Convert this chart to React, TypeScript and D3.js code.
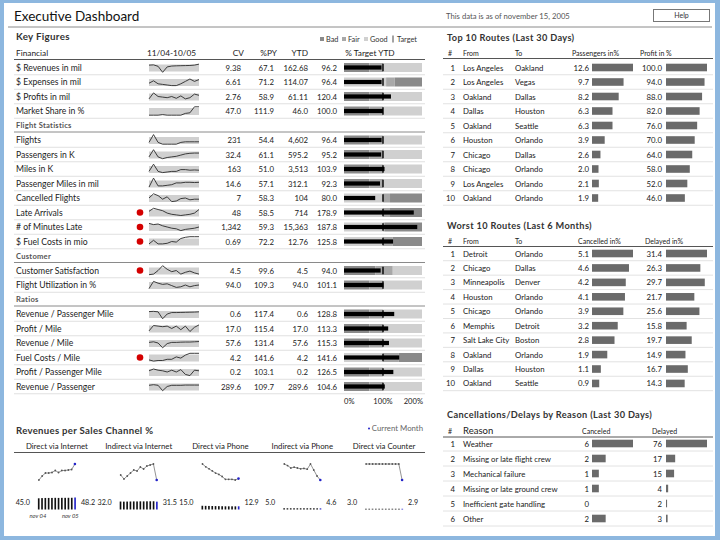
import React from "react";
import * as d3 from "d3";

const FONT = "Lato, 'Open Sans', 'DejaVu Sans', sans-serif";
const FRAME = "#8db7df";
const BAND_LIGHT = "#d0d0d0";
const BAND_MID = "#a8a8a8";
const BAND_DARK = "#8a8a8a";
const BAR_GRAY = "#6a6a6a";
const CUR_BLUE = "#2424c8";

// ---------------- Key figures ----------------
const kfGroups = ["Financial", "Flight Statistics", "Customer", "Ratios"];
const kfGroupOf = [0, 0, 0, 0, 1, 1, 1, 1, 1, 1, 1, 1, 2, 2, 3, 3, 3, 3, 3, 3];
const kfLabels = [
  "$ Revenues in mil", "$ Expenses in mil", "$ Profits in mil", "Market Share in %",
  "Flights", "Passengers in K", "Miles in K", "Passenger Miles in mil", "Cancelled Flights",
  "Late Arrivals", "# of Minutes Late", "$ Fuel Costs in mio",
  "Customer Satisfaction", "Flight Utilization in %",
  "Revenue / Passenger Mile", "Profit / Mile", "Revenue / Mile", "Fuel Costs / Mile",
  "Profit / Passenger Mile", "Revenue / Passenger",
];
const kfCV = ["9.38", "6.61", "2.76", "47.0", "231", "32.4", "163", "14.6", "7", "48", "1,342", "0.69", "4.5", "94.0", "0.6", "17.0", "57.6", "4.2", "0.2", "289.6"];
const kfPY = ["67.1", "71.2", "58.9", "111.9", "54.4", "61.1", "51.0", "57.1", "58.3", "58.5", "59.3", "72.2", "99.6", "109.3", "117.4", "115.4", "131.4", "141.6", "103.1", "109.7"];
const kfYTD = ["162.68", "114.07", "61.11", "46.0", "4,602", "595.2", "3,513", "312.1", "104", "714", "15,363", "12.76", "4.5", "94.0", "0.6", "17.0", "57.6", "4.2", "0.2", "289.6"];
const kfTarget = [96.2, 96.4, 120.4, 100.0, 96.4, 95.2, 103.9, 92.3, 80.0, 178.9, 187.8, 125.8, 94.0, 101.1, 128.8, 113.3, 115.3, 141.6, 126.5, 104.6];
const kfAlert = [false, false, false, false, false, false, false, false, false, true, true, true, true, false, false, false, false, true, false, false];
const kfLowerBetter = [false, true, false, false, false, false, false, false, true, true, true, true, false, false, false, false, false, true, false, false];
const kfBandLo = [65, 108, 65, 65, 65, 65, 65, 65, 100, 100, 100, 100, 80, 65, 65, 65, 65, 100, 65, 65];
const kfBandHi = [100, 130, 100, 100, 100, 100, 100, 100, 118, 118, 105, 125, 125, 100, 100, 100, 100, 140, 100, 100];
const kfSpark = [
  [0.7, 0.72, 0.6, 0.1, 0.55, 0.62, 0.64, 0.65, 0.66, 0.67, 0.7, 0.78],
  [0.4, 0.6, 0.35, 0.3, 0.25, 0.2, 0.2, 0.35, 0.55, 0.75, 0.55, 0.7],
  [0.3, 0.8, 0.5, 0.45, 0.4, 0.5, 0.35, 0.55, 0.3, 0.4, 0.7, 0.6],
  [0.15, 0.15, 0.15, 0.2, 0.15, 0.15, 0.15, 0.15, 0.3, 0.35, 0.85, 0.85],
  [0.3, 0.95, 0.3, 0.15, 0.15, 0.15, 0.15, 0.3, 0.35, 0.35, 0.35, 0.35],
  [0.3, 0.9, 0.3, 0.15, 0.25, 0.3, 0.35, 0.45, 0.55, 0.6, 0.62, 0.62],
  [0.3, 0.9, 0.3, 0.2, 0.25, 0.3, 0.3, 0.45, 0.45, 0.4, 0.42, 0.4],
  [0.2, 0.95, 0.3, 0.3, 0.35, 0.4, 0.55, 0.55, 0.6, 0.6, 0.58, 0.6],
  [0.5, 0.85, 0.7, 0.4, 0.6, 0.2, 0.25, 0.45, 0.5, 0.35, 0.4, 0.4],
  [0.6, 0.85, 0.75, 0.65, 0.45, 0.35, 0.3, 0.25, 0.3, 0.35, 0.45, 0.75],
  [0.8, 0.7, 0.75, 0.6, 0.5, 0.4, 0.35, 0.2, 0.3, 0.35, 0.4, 0.5],
  [0.3, 0.6, 0.3, 0.3, 0.35, 0.5, 0.45, 0.75, 0.85, 0.9, 0.9, 0.9],
  [0.15, 0.2, 0.5, 0.9, 0.6, 0.4, 0.5, 0.2, 0.35, 0.45, 0.3, 0.2],
  [0.2, 0.8, 0.65, 0.55, 0.6, 0.45, 0.3, 0.35, 0.5, 0.35, 0.45, 0.5],
  [0.7, 0.72, 0.68, 0.1, 0.5, 0.62, 0.62, 0.63, 0.64, 0.65, 0.66, 0.68],
  [0.3, 0.75, 0.7, 0.65, 0.7, 0.5, 0.7, 0.4, 0.7, 0.25, 0.6, 0.8],
  [0.55, 0.6, 0.5, 0.1, 0.45, 0.55, 0.55, 0.57, 0.58, 0.58, 0.6, 0.62],
  [0.3, 0.2, 0.25, 0.25, 0.35, 0.35, 0.55, 0.45, 0.7, 0.85, 0.85, 0.85],
  [0.6, 0.75, 0.65, 0.6, 0.5, 0.65, 0.5, 0.7, 0.3, 0.2, 0.65, 0.6],
  [0.6, 0.65, 0.6, 0.15, 0.5, 0.6, 0.6, 0.6, 0.62, 0.62, 0.62, 0.62],
];
const kfAxisTicks = [0, 100, 200];
const legendItems = ["Bad", "Fair", "Good"];

// ---------------- Sales channels ----------------
const channelNames = ["Direct via Internet", "Indirect via Internet", "Direct via Phone", "Indirect via Phone", "Direct via Counter"];
const channelSeries = [
  [45.0, 45.8, 46.4, 46.4, 46.5, 46.9, 46.5, 46.9, 46.9, 47.0, 47.1, 48.2],
  [32.0, 31.6, 31.9, 32.2, 32.5, 32.4, 32.8, 32.6, 32.9, 33.0, 33.1, 31.5],
  [15.0, 14.6, 14.3, 14.0, 13.7, 13.5, 13.2, 12.8, 12.8, 12.8, 12.7, 12.9],
  [5.0, 4.96, 4.9, 4.92, 4.9, 4.88, 4.89, 4.87, 5.0, 4.85, 4.7, 4.6],
  [3.0, 3.0, 3.0, 3.0, 3.0, 3.0, 3.0, 3.0, 3.0, 3.0, 3.0, 2.9],
];
const channelMonthLabels = ["nov 04", "nov 05"];

// ---------------- Top 10 routes ----------------
const topFrom = ["Los Angeles", "Los Angeles", "Oakland", "Dallas", "Oakland", "Houston", "Chicago", "Chicago", "Los Angeles", "Oakland"];
const topTo = ["Oakland", "Vegas", "Dallas", "Houston", "Seattle", "Orlando", "Dallas", "Orlando", "Orlando", "Orlando"];
const topPassengers = [12.6, 9.7, 8.2, 6.3, 6.3, 3.9, 2.6, 2.0, 2.1, 1.9];
const topProfit = [100.0, 94.0, 88.0, 82.0, 76.0, 70.0, 64.0, 58.0, 52.0, 46.0];

// ---------------- Worst 10 routes ----------------
const worstFrom = ["Detroit", "Chicago", "Minneapolis", "Houston", "Chicago", "Memphis", "Salt Lake City", "Oakland", "Dallas", "Oakland"];
const worstTo = ["Orlando", "Dallas", "Denver", "Orlando", "Orlando", "Detroit", "Boston", "Orlando", "Houston", "Seattle"];
const worstCancelled = [5.1, 4.6, 4.2, 4.1, 3.9, 3.2, 2.8, 1.9, 1.1, 0.9];
const worstDelayed = [31.4, 26.3, 29.7, 21.7, 25.6, 15.8, 19.7, 14.9, 16.7, 14.3];

// ---------------- Reasons ----------------
const reasonLabels = ["Weather", "Missing or late flight crew", "Mechanical failure", "Missing or late ground crew", "Inefficient gate handling", "Other"];
const reasonCanceled = [6, 2, 1, 1, 0, 2];
const reasonDelayed = [76, 17, 15, 4, 2, 3];

const f1 = d3.format(".1f");

type BarCol = { header: string; headerX: number; valueX: number; barX: number; values: number[]; fmt: (v: number) => string };

function RankTable(props: {
  title: string; titleY: number; headerY: number; lineY: number; y0: number; step: number;
  textHeaders: { x: number; text: string; size: number }[];
  textCols: { x: number; values: string[] }[];
  barCols: BarCol[];
}) {
  const { title, titleY, headerY, lineY, y0, step, textHeaders, textCols, barCols } = props;
  const n = barCols[0].values.length;
  const yR = d3.scaleLinear().domain([0, 1]).range([y0, y0 + step]);
  return (
    <g>
      <text x={447} y={titleY} fontSize={9.2} fontWeight={700} fill="#333" letterSpacing={0.35}>{title}</text>
      {textHeaders.map((h, i) => (
        <text key={"th" + i} x={h.x} y={headerY} fontSize={h.size} fill="#222">{h.text}</text>
      ))}
      {barCols.map((c, i) => (
        <text key={"bh" + i} x={c.headerX} y={headerY} fontSize={7} fill="#222">{c.header}</text>
      ))}
      <line x1={443} x2={713} y1={lineY} y2={lineY} stroke="#555" strokeWidth={1} />
      {d3.range(n).map((r) => {
        const cy = yR(r);
        return (
          <g key={"r" + r}>
            <line x1={443} x2={713} y1={cy + step / 2} y2={cy + step / 2} stroke="#e2e2e2" strokeWidth={1} />
            <text x={455} y={cy + 3} fontSize={7.8} fill="#222" textAnchor="end">{r + 1}</text>
            {textCols.map((tc, j) => (
              <text key={"tc" + j} x={tc.x} y={cy + 3} fontSize={7.8} fill="#222">{tc.values[r]}</text>
            ))}
            {barCols.map((bc, j) => {
              const w = d3.scaleLinear().domain([0, d3.max(bc.values) as number]).range([0, 41]);
              return (
                <g key={"bc" + j}>
                  <text x={bc.valueX} y={cy + 3} fontSize={7.8} fill="#222" textAnchor="end">{bc.fmt(bc.values[r])}</text>
                  {bc.values[r] > 0 && (
                    <rect x={bc.barX} y={cy - 3.8} width={Math.max(1, w(bc.values[r]))} height={7.6} fill={BAR_GRAY} />
                  )}
                </g>
              );
            })}
          </g>
        );
      })}
    </g>
  );
}

export default function App() {
  const xB = d3.scaleLinear().domain([0, 200]).range([344, 422]);
  const xS = d3.scaleLinear().domain([0, 11]).range([149, 199]);
  const rowY = d3.scaleLinear().domain([0, 1]).range([53, 67.5]);

  const layout: { kind: string; k: number; i: number; label: string }[] = [];
  let k = 1;
  let g = 0;
  kfLabels.forEach((lab, i) => {
    if (kfGroupOf[i] !== g) {
      g = kfGroupOf[i];
      layout.push({ kind: "section", k, i: -1, label: kfGroups[g] });
      k++;
    }
    layout.push({ kind: "metric", k, i, label: lab });
    k++;
  });
  const axisY = rowY(k) + 3;

  const xCh = d3.scaleBand().domain(channelNames).range([16, 425]);
  const hBar = d3.scaleLinear().domain([0, 48.2]).range([0, 12]);
  const barBase = 509.5;

  const legendColors = [BAND_DARK, BAND_MID, BAND_LIGHT];
  const legendX = [320, 342, 364];

  return (
    <svg width={720} height={540} style={{ position: "absolute", left: 0, top: 0 }} fontFamily={FONT}>
      <rect x={0} y={0} width={720} height={540} fill={FRAME} />
      <rect x={4} y={3} width={711} height={533} fill="#fff" />

      {/* Header */}
      <text x={14} y={20.5} fontSize={13.5} fill="#111">Executive Dashboard</text>
      <text x={446} y={19} fontSize={7.7} fill="#555">This data is as of november 15, 2005</text>
      <rect x={653.5} y={9.5} width={56} height={12} fill="#fff" stroke="#777" strokeWidth={1} />
      <text x={681.5} y={18.3} fontSize={7} fill="#333" textAnchor="middle">Help</text>
      <line x1={8} x2={712} y1={27} y2={27} stroke="#8a8a8a" strokeWidth={1} />

      {/* Key figures */}
      <text x={16} y={40} fontSize={9.8} fontWeight={700} fill="#333" letterSpacing={0.3}>Key Figures</text>
      <g fontSize={7.3} fill="#333">
        {legendItems.map((it, j) => (
          <g key={it}>
            <rect x={legendX[j]} y={37} width={4} height={4} fill={legendColors[j]} />
            <text x={legendX[j] + 6} y={41.5}>{it}</text>
          </g>
        ))}
        <line x1={393} x2={393} y1={35.5} y2={42.5} stroke="#333" strokeWidth={0.9} />
        <text x={397} y={41.5}>Target</text>
      </g>

      <g fontSize={8.3} fill="#222">
        <text x={16} y={rowY(0) + 3}>{kfGroups[0]}</text>
        <text x={147} y={rowY(0) + 3}>11/04-10/05</text>
        <text x={244} y={rowY(0) + 3} textAnchor="end">CV</text>
        <text x={277} y={rowY(0) + 3} textAnchor="end">%PY</text>
        <text x={308} y={rowY(0) + 3} textAnchor="end">YTD</text>
        <text x={370} y={rowY(0) + 3} textAnchor="middle">% Target YTD</text>
      </g>
      <line x1={14} x2={425} y1={rowY(0) + 6.5} y2={rowY(0) + 6.5} stroke="#555" strokeWidth={1} />

      {layout.map((r) => {
        const cy = rowY(r.k);
        if (r.kind === "section") {
          return (
            <g key={"s" + r.k}>
              <text x={16} y={cy + 2.5} fontSize={7.6} fontWeight={700} fill="#555" letterSpacing={0.25}>{r.label}</text>
              <line x1={14} x2={425} y1={cy + 6.5} y2={cy + 6.5} stroke="#8a8a8a" strokeWidth={1} />
            </g>
          );
        }
        const i = r.i;
        const ys = d3.scaleLinear().domain([0, 1]).range([cy + 6, cy - 6]);
        const line = d3.line<number>().x((_, j) => xS(j)).y((v) => ys(v));
        const lo = kfBandLo[i];
        const hi = kfBandHi[i];
        const segs: [number, number, string][] = kfLowerBetter[i]
          ? [[0, lo, BAND_LIGHT], [lo, hi, BAND_MID], [hi, 200, BAND_DARK]]
          : [[0, lo, BAND_DARK], [lo, hi, BAND_MID], [hi, 200, BAND_LIGHT]];
        return (
          <g key={"m" + i}>
            <line x1={14} x2={425} y1={cy + 7.25} y2={cy + 7.25} stroke="#e0e0e0" strokeWidth={1} />
            <text x={16} y={cy + 3} fontSize={8.6} fill="#222">{r.label}</text>
            {kfAlert[i] && <circle cx={140} cy={cy} r={3.3} fill="#d40000" />}
            <rect x={xS(0)} y={cy - 3} width={xS(11) - xS(0)} height={7} fill={BAND_LIGHT} />
            <path d={line(kfSpark[i]) || ""} fill="none" stroke="#2a2a2a" strokeWidth={0.9} />
            <g fontSize={7.8} fill="#222" textAnchor="end">
              <text x={241} y={cy + 3}>{kfCV[i]}</text>
              <text x={274} y={cy + 3}>{kfPY[i]}</text>
              <text x={308} y={cy + 3}>{kfYTD[i]}</text>
              <text x={337} y={cy + 3}>{f1(kfTarget[i])}</text>
            </g>
            {segs.map((s, j) => (
              <rect key={j} x={xB(s[0])} y={cy - 4.5} width={xB(s[1]) - xB(s[0])} height={9} fill={s[2]} />
            ))}
            <rect x={xB(0)} y={cy - 2.1} width={xB(Math.min(200, kfTarget[i])) - xB(0)} height={4.2} fill="#000" />
            <line x1={xB(100)} x2={xB(100)} y1={cy - 3.8} y2={cy + 3.8} stroke="#000" strokeWidth={1.4} />
          </g>
        );
      })}
      <g fontSize={7.6} fill="#222">
        {kfAxisTicks.map((t, j) => (
          <text key={t} x={xB(t) + (j === 2 ? 1 : 0)} y={axisY} textAnchor={j === 0 ? "start" : j === 1 ? "middle" : "end"}>{t + "%"}</text>
        ))}
      </g>

      {/* Revenues per sales channel */}
      <text x={16} y={434} fontSize={9.6} fontWeight={700} fill="#333" letterSpacing={0.3}>Revenues per Sales Channel %</text>
      <circle cx={369} cy={428.5} r={1} fill={CUR_BLUE} />
      <text x={423} y={431} fontSize={7.8} fill="#666" textAnchor="end">Current Month</text>
      <line x1={14} x2={425} y1={452.5} y2={452.5} stroke="#555" strokeWidth={1} />
      {channelNames.map((name, ci) => {
        const c = (xCh(name) as number) + xCh.bandwidth() / 2;
        const s = channelSeries[ci];
        const xl = d3.scaleLinear().domain([0, 11]).range([c - 18, c + 18]);
        const ext = d3.extent(s) as [number, number];
        const yl = d3.scaleLinear().domain(ext).range([480, 464]);
        const ln = d3.line<number>().x((_, j) => xl(j)).y((v) => yl(v));
        const xb = d3.scaleBand<number>().domain(d3.range(12)).range([c - 19, c + 19]).paddingInner(0.5);
        return (
          <g key={name}>
            <text x={c} y={449} fontSize={7.8} fill="#222" textAnchor="middle">{name}</text>
            <path d={ln(s) || ""} fill="none" stroke="#777" strokeWidth={0.8} />
            {s.map((v, j) => (
              <circle key={j} cx={xl(j)} cy={yl(v)} r={j === 11 ? 1.3 : 0.9} fill={j === 11 ? CUR_BLUE : "#555"} />
            ))}
            {s.map((v, j) => (
              <rect key={"b" + j} x={xb(j) as number} y={barBase - hBar(v)} width={xb.bandwidth()} height={hBar(v)} fill={j === 11 ? CUR_BLUE : "#111"} />
            ))}
            <text x={c - 27} y={505} fontSize={7.2} fill="#222" textAnchor="end">{f1(s[0])}</text>
            <text x={c + 24} y={505} fontSize={7.2} fill="#222">{f1(s[11])}</text>
            {ci === 0 && (
              <g fontSize={5.8} fill="#333" fontStyle="italic" textAnchor="middle">
                <text x={xb(0) as number} y={518}>{channelMonthLabels[0]}</text>
                <text x={(xb(11) as number) - 4} y={518}>{channelMonthLabels[1]}</text>
              </g>
            )}
          </g>
        );
      })}

      {/* Right panel */}
      <RankTable
        title="Top 10 Routes (Last 30 Days)"
        titleY={41}
        headerY={55.5}
        lineY={58.5}
        y0={67.5}
        step={14.5}
        textHeaders={[{ x: 448, text: "#", size: 7 }, { x: 463, text: "From", size: 7 }, { x: 515, text: "To", size: 7 }]}
        textCols={[{ x: 463, values: topFrom }, { x: 515, values: topTo }]}
        barCols={[
          { header: "Passengers in%", headerX: 572, valueX: 589, barX: 592, values: topPassengers, fmt: f1 },
          { header: "Profit in %", headerX: 640, valueX: 662, barX: 666, values: topProfit, fmt: f1 },
        ]}
      />
      <RankTable
        title="Worst 10 Routes (Last 6 Months)"
        titleY={229}
        headerY={244}
        lineY={246.5}
        y0={253.5}
        step={14.44}
        textHeaders={[{ x: 448, text: "#", size: 7 }, { x: 463, text: "From", size: 7 }, { x: 515, text: "To", size: 7 }]}
        textCols={[{ x: 463, values: worstFrom }, { x: 515, values: worstTo }]}
        barCols={[
          { header: "Cancelled in%", headerX: 578, valueX: 589, barX: 592, values: worstCancelled, fmt: f1 },
          { header: "Delayed in%", headerX: 645, valueX: 662, barX: 666, values: worstDelayed, fmt: f1 },
        ]}
      />
      <RankTable
        title="Cancellations/Delays by Reason (Last 30 Days)"
        titleY={418}
        headerY={434}
        lineY={437}
        y0={443.5}
        step={15}
        textHeaders={[{ x: 448, text: "#", size: 7 }, { x: 463, text: "Reason", size: 9.5 }]}
        textCols={[{ x: 463, values: reasonLabels }]}
        barCols={[
          { header: "Canceled", headerX: 582, valueX: 589, barX: 592, values: reasonCanceled, fmt: d3.format("d") },
          { header: "Delayed", headerX: 652, valueX: 662, barX: 666, values: reasonDelayed, fmt: d3.format("d") },
        ]}
      />
    </svg>
  );
}
